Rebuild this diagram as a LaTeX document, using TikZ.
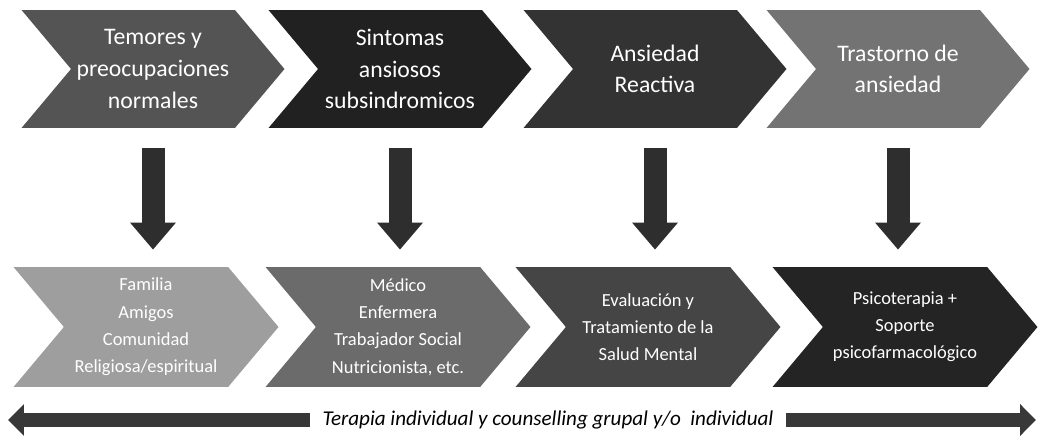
\documentclass[tikz,border=0pt]{standalone}
\usepackage{fontspec}
\setmainfont{Carlito}
\definecolor{topa}{gray}{0.33}
\definecolor{topb}{gray}{0.13}
\definecolor{topc}{gray}{0.2}
\definecolor{topd}{gray}{0.45}
\definecolor{bota}{gray}{0.62}
\definecolor{botb}{gray}{0.42}
\definecolor{botc}{gray}{0.27}
\definecolor{botd}{gray}{0.14}
\usetikzlibrary{shapes.symbols, arrows.meta, positioning}
\tikzset{
	chevron/.style={signal, signal to=east, signal from=west, signal pointer angle=100,
		inner sep=0pt, text=white, align=center}
}
\tikzset{
	stagebox/.style={chevron, minimum width=5.26cm, minimum height=2.36cm,
		font=\fontsize{13.5}{18}\selectfont}
}
\tikzset{
	carebox/.style={chevron, minimum width=5.3cm, minimum height=2.4cm,
		font=\fontsize{10.5}{15.5}\selectfont}
}
\tikzset{
	downarrow/.style={line width=0.46cm, color=black!82,
		-{Triangle[width=0.88cm, length=0.54cm]}, shorten <=0.4cm, shorten >=0.34cm}
}
\tikzset{
	spanarrow/.style={line width=0.28cm, color=black!78,
		-{Triangle[width=0.62cm, length=0.32cm]}}
}

\begin{document}
\begin{tikzpicture}[x=0.02cm, y=-0.02cm]
      \useasboundingbox (0,0) rectangle (1040,445);
      % stages
      \foreach \n/\x/\c/\t in {
        1/153/topa/{Temores y\\preocupaciones\\normales},
        2/400/topb/{Sintomas\\ansiosos\\subsindromicos},
        3/655/topc/{Ansiedad\\Reactiva},
        4/898/topd/{Trastorno de\\ansiedad}}
        \node[stagebox, fill=\c] (t\n) at (\x,69) {\t};
      % care
      \foreach \n/\x/\c/\t in {
        1/146/bota/{Familia\\Amigos\\Comunidad\\Religiosa/espiritual},
        2/398/botb/{Médico\\Enfermera\\Trabajador Social\\Nutricionista, etc.},
        3/648/botc/{Evaluación y\\Tratamiento de la\\Salud Mental},
        4/905/botd/{Psicoterapia +\\Soporte\\psicofarmacológico}}
        \node[carebox, fill=\c] (b\n) at (\x,327) {\t};
      \foreach \n in {1,2,3,4}
        \draw[downarrow] (t\n.south) -- (t\n.south |- b\n.north);
      % bottom span
      \node[font=\fontsize{12}{14}\selectfont\itshape, inner xsep=0.25cm] (span) at (548,420)
        {Terapia individual y counselling grupal y/o~ individual};
      \coordinate (lend) at (8,420);
      \coordinate (rend) at (1036,420);
      \draw[spanarrow] (span.west) -- (lend);
      \draw[spanarrow] (span.east) -- (rend);
    \end{tikzpicture}
\end{document}
